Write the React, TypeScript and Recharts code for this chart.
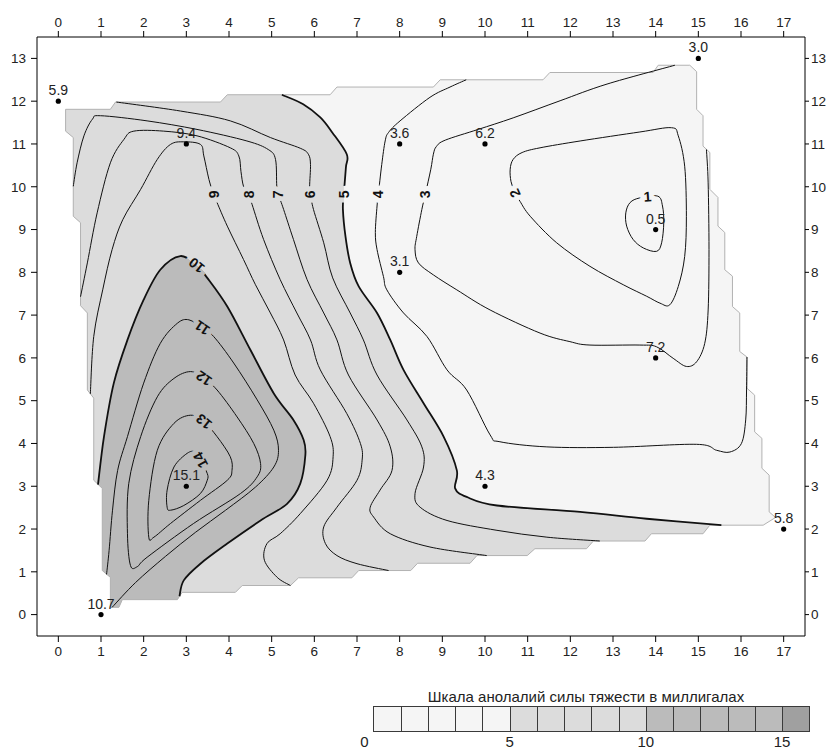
import { ScatterChart, Scatter, XAxis, YAxis } from 'recharts';

type Pt = [number, number];
type XY = { x: number; y: number };

const X_TICKS = [0, 1, 2, 3, 4, 5, 6, 7, 8, 9, 10, 11, 12, 13, 14, 15, 16, 17];
const Y_TICKS = [0, 1, 2, 3, 4, 5, 6, 7, 8, 9, 10, 11, 12, 13];

// blanking outline of the gridded area (stair steps of the grid)
const BOUNDARY: Pt[] = [
  [0.17, 11.81], [1.22, 11.81], [1.34, 11.98], [3.8, 11.98], [3.96, 12.15], [6.37, 12.15],
  [6.53, 12.33], [8.79, 12.33], [8.95, 12.5], [11.36, 12.5], [11.52, 12.67], [13.94, 12.67],
  [14.06, 12.84], [14.8, 12.84], [14.96, 12.69], [14.96, 11.81], [15.11, 11.66], [15.11, 10.95],
  [15.27, 10.8], [15.27, 9.94], [15.46, 9.75], [15.46, 9.08], [15.62, 8.93], [15.62, 8.06],
  [15.8, 7.91], [15.8, 7.2], [15.97, 7.05], [15.97, 6.15], [16.14, 6.02], [16.14, 5.29],
  [16.32, 5.13], [16.32, 4.27], [16.49, 4.12], [16.49, 3.42], [16.66, 3.26], [16.66, 2.4],
  [16.81, 2.27], [16.52, 2.09], [15.27, 2.09], [15.11, 1.89], [13.9, 1.89], [13.75, 1.72],
  [12.54, 1.72], [12.38, 1.54], [11.17, 1.54], [10.99, 1.38], [9.81, 1.38], [9.65, 1.2],
  [8.42, 1.2], [8.26, 1.03], [7.04, 1.03], [6.88, 0.86], [5.63, 0.86], [5.44, 0.68],
  [4.31, 0.68], [4.15, 0.52], [2.9, 0.52], [2.79, 0.35], [1.5, 0.35], [1.42, 0.17],
  [1.22, 0.17], [1.22, 0.87], [1.03, 1.03], [1.03, 2.95], [0.83, 3.14], [0.83, 5.06],
  [0.68, 5.25], [0.68, 7.05], [0.52, 7.22], [0.52, 9.16], [0.35, 9.31], [0.35, 11.15],
  [0.17, 11.3],
];

const CONTOUR_1: Pt[] = [
  [14.05, 9.78], [14.16, 9.55], [14.19, 9.16], [14.14, 8.69], [14.02, 8.49], [13.71, 8.57],
  [13.47, 8.77], [13.32, 9.08], [13.3, 9.39], [13.4, 9.63], [13.63, 9.74],
];
const CONTOUR_2: Pt[] = [
  [10.59, 10.41], [10.66, 10.64], [10.87, 10.8], [11.29, 10.91], [12.23, 11.07], [13.63, 11.28],
  [14.37, 11.38], [14.53, 11.19], [14.68, 10.48], [14.72, 9.31], [14.68, 8.37], [14.53, 7.67],
  [14.33, 7.24], [14.1, 7.28], [13.79, 7.44], [13.24, 7.71], [12.46, 8.14], [11.68, 8.69],
  [11.06, 9.31], [10.82, 9.66], [10.7, 9.87], [10.61, 10.12],
];
const CONTOUR_3: Pt[] = [
  [14.45, 12.84], [12.86, 12.4], [11.76, 12.01], [10.66, 11.61], [9.84, 11.34], [9.07, 11.09],
  [8.86, 10.94], [8.79, 10.76], [8.73, 10.41], [8.6, 9.82], [8.52, 9.47], [8.4, 8.84],
  [8.36, 8.53], [8.44, 8.22], [8.79, 7.94], [9.34, 7.59], [10.12, 7.12], [11.29, 6.58],
  [11.99, 6.38], [12.46, 6.3], [13.63, 6.3], [14.02, 6.26], [14.41, 5.99], [14.72, 5.8],
  [14.96, 5.91], [15.15, 6.34], [15.23, 7.12], [15.25, 8.53], [15.23, 10.09], [15.19, 10.87],
];
const CONTOUR_4: Pt[] = [
  [9.56, 12.5], [9.18, 12.33], [8.71, 12.09], [8.01, 11.54], [7.74, 11.27], [7.66, 11.07],
  [7.58, 10.52], [7.5, 9.82], [7.47, 9.55], [7.43, 8.93], [7.47, 8.53], [7.62, 7.9],
  [7.7, 7.59], [8.09, 7.05], [8.64, 6.5], [9.11, 5.72], [9.57, 5.25], [10.12, 4.2],
  [10.35, 4.04], [11.45, 3.92], [13.01, 3.91], [14.96, 3.98], [15.43, 3.84], [15.74, 3.8],
  [16.01, 4.0], [16.11, 4.55], [16.13, 5.25], [16.14, 6.02],
];
const CONTOUR_5: Pt[] = [
  [5.24, 12.15], [5.74, 11.93], [6.14, 11.62], [6.42, 11.27], [6.76, 10.76], [6.74, 10.45],
  [6.69, 9.82], [6.67, 9.47], [6.73, 8.84], [6.84, 8.22], [7.04, 7.67], [7.47, 7.05],
  [7.78, 6.42], [8.09, 5.72], [8.56, 4.94], [9.03, 4.16], [9.34, 3.37], [9.3, 2.95],
  [9.57, 2.75], [10.28, 2.55], [12.23, 2.4], [13.79, 2.24], [15.54, 2.09],
];
const CONTOUR_6: Pt[] = [
  [1.36, 11.98], [2.86, 11.77], [4.03, 11.54], [4.97, 11.15], [5.67, 10.9], [5.86, 10.76],
  [5.91, 10.52], [5.89, 10.01], [5.91, 9.82], [5.98, 9.47], [6.22, 8.69], [6.43, 7.87],
  [6.84, 7.05], [7.15, 6.42], [7.47, 5.6], [8.17, 4.55], [8.52, 3.92], [8.56, 3.45],
  [8.36, 2.83], [8.48, 2.51], [9.11, 2.2], [10.28, 1.97], [11.45, 1.81], [12.69, 1.72],
];
const CONTOUR_7: Pt[] = [
  [0.35, 10.01], [0.44, 10.56], [0.6, 11.19], [0.8, 11.58], [0.99, 11.66], [2.08, 11.54],
  [3.25, 11.34], [4.42, 11.07], [4.92, 10.87], [5.09, 10.64], [5.12, 10.01], [5.16, 9.82],
  [5.28, 9.47], [5.51, 8.77], [5.83, 7.83], [6.22, 7.05], [6.53, 6.42], [6.8, 5.6],
  [7.47, 4.55], [7.78, 3.92], [7.82, 3.37], [7.54, 2.91], [7.31, 2.51], [7.39, 2.28],
  [7.78, 1.89], [8.71, 1.58], [10.04, 1.38],
];
const CONTOUR_8: Pt[] = [
  [0.52, 7.43], [0.68, 8.22], [0.91, 9.39], [1.22, 10.56], [1.54, 11.11], [1.77, 11.3],
  [2.47, 11.3], [3.25, 11.19], [4.03, 10.91], [4.23, 10.72], [4.28, 10.36], [4.34, 10.01],
  [4.46, 9.82], [4.54, 9.59], [4.81, 8.77], [5.2, 7.83], [5.59, 7.05], [5.91, 6.42],
  [6.14, 5.72], [6.76, 4.7], [7.08, 4.0], [7.12, 3.61], [7.0, 3.14], [6.53, 2.51],
  [6.22, 2.05], [6.26, 1.66], [6.53, 1.38], [7.0, 1.19], [7.74, 1.03],
];
const CONTOUR_9: Pt[] = [
  [0.75, 5.16], [0.83, 6.5], [1.04, 7.59], [1.26, 8.53], [1.51, 9.23], [1.93, 9.94],
  [2.32, 10.64], [2.63, 10.99], [2.94, 11.05], [3.33, 10.99], [3.41, 10.72], [3.53, 10.17],
  [3.64, 9.82], [3.72, 9.63], [3.96, 9.08], [4.34, 8.3], [4.62, 7.71], [4.97, 7.05],
  [5.28, 6.42], [5.55, 5.6], [5.98, 4.94], [6.37, 4.16], [6.44, 3.69], [6.3, 3.14],
  [5.67, 2.36], [5.2, 1.89], [4.89, 1.66], [4.83, 1.27], [5.13, 0.87], [5.44, 0.68],
];
const CONTOUR_10: Pt[] = [
  [0.93, 3.04], [1.07, 4.16], [1.3, 5.41], [1.62, 6.42], [2.0, 7.36], [2.39, 8.06],
  [2.86, 8.38], [3.24, 8.16], [3.49, 7.87], [3.96, 7.2], [4.5, 6.19], [5.05, 5.17],
  [5.51, 4.55], [5.75, 4.08], [5.79, 3.73], [5.67, 3.06], [5.36, 2.59], [4.74, 2.2],
  [3.96, 1.66], [3.33, 1.19], [2.94, 0.8], [2.84, 0.43],
];
const CONTOUR_11: Pt[] = [
  [1.13, 0.94], [1.19, 1.5], [1.27, 2.44], [1.39, 3.37], [1.62, 4.16], [2.0, 5.41],
  [2.39, 6.34], [2.79, 6.81], [3.06, 6.89], [3.37, 6.7], [3.64, 6.5], [4.11, 5.88],
  [4.66, 5.02], [5.05, 4.31], [5.16, 3.84], [5.05, 3.45], [4.62, 2.98], [3.92, 2.44],
  [3.21, 1.92], [2.51, 1.36], [1.81, 0.75], [1.26, 0.17],
];
const CONTOUR_12: Pt[] = [
  [1.69, 1.15], [1.62, 1.89], [1.65, 3.06], [1.93, 4.16], [2.32, 5.09], [2.71, 5.52],
  [3.1, 5.68], [3.41, 5.52], [3.72, 5.25], [4.19, 4.62], [4.58, 4.0], [4.74, 3.53],
  [4.66, 3.22], [4.27, 2.83], [3.17, 2.13], [2.08, 1.34], [1.85, 1.12],
];
const CONTOUR_13: Pt[] = [
  [2.12, 1.81], [2.12, 2.67], [2.32, 3.84], [2.71, 4.47], [3.1, 4.66], [3.41, 4.51],
  [3.72, 4.16], [4.03, 3.69], [4.07, 3.37], [3.96, 3.14], [3.33, 2.67], [2.63, 2.13],
  [2.24, 1.81],
];
const CONTOUR_14: Pt[] = [
  [2.55, 2.51], [2.55, 2.91], [2.71, 3.45], [3.02, 3.77], [3.21, 3.8], [3.33, 3.61],
  [3.49, 3.3], [3.49, 3.14], [3.33, 2.83], [2.94, 2.55], [2.63, 2.44],
];

const LABEL_TEXT = ['1', '2', '3', '4', '5', '6', '7', '8', '9', '10', '11', '12', '13', '14'];
const LABEL_X = [13.81, 10.7, 8.6, 7.5, 6.69, 5.91, 5.16, 4.46, 3.64, 3.24, 3.37, 3.41, 3.41, 3.33];
const LABEL_Y = [9.77, 9.85, 9.82, 9.82, 9.82, 9.82, 9.82, 9.82, 9.82, 8.16, 6.7, 5.52, 4.51, 3.61];

const STATION_X = [0, 3, 8, 10, 15, 14, 8, 14, 3, 10, 17, 1];
const STATION_Y = [12, 11, 11, 11, 13, 9, 8, 6, 3, 3, 2, 0];
const STATION_VALUES = ['5.9', '9.4', '3.6', '6.2', '3.0', '0.5', '3.1', '7.2', '15.1', '4.3', '5.8', '10.7'];

const LEGEND_STEPS = [0, 1, 2, 3, 4, 5, 6, 7, 8, 9, 10, 11, 12, 13, 14, 15];
const LEGEND_TICKS = [0, 5, 10, 15];

const SHADES = ['#f5f5f5', '#dcdcdc', '#bbbbbb', '#a0a0a0'];
const shadeFor = (v: number) => SHADES[Math.min(3, Math.floor(v / 5))];

// label angle (deg) and halo colours: [angle, side of higher values, other side]
const LABEL_STYLE: Record<string, [number, string, string]> = {
  '1': [-4, SHADES[0], SHADES[0]],
  '2': [-114, SHADES[0], SHADES[0]],
  '3': [-90, SHADES[0], SHADES[0]],
  '4': [-90, SHADES[0], SHADES[0]],
  '5': [-90, SHADES[1], SHADES[0]],
  '6': [-90, SHADES[1], SHADES[1]],
  '7': [-90, SHADES[1], SHADES[1]],
  '8': [-90, SHADES[1], SHADES[1]],
  '9': [-90, SHADES[1], SHADES[1]],
  '10': [-141, SHADES[2], SHADES[1]],
  '11': [-146, SHADES[2], SHADES[2]],
  '12': [-146, SHADES[2], SHADES[2]],
  '13': [-141, SHADES[2], SHADES[2]],
  '14': [-118, SHADES[2], SHADES[2]],
};

const rows = (pts: Pt[]) => pts.map(([x, y]) => ({ x, y }));

const REGION_5 = [...CONTOUR_5, ...BOUNDARY.slice(38), ...BOUNDARY.slice(0, 5)];
const REGION_10 = [...CONTOUR_10, ...BOUNDARY.slice(57, 64)];

const CONTOURS: { pts: Pt[]; closed: boolean; major: boolean }[] = [
  { pts: CONTOUR_1, closed: true, major: false },
  { pts: CONTOUR_2, closed: true, major: false },
  { pts: CONTOUR_3, closed: false, major: false },
  { pts: CONTOUR_4, closed: false, major: false },
  { pts: CONTOUR_5, closed: false, major: true },
  { pts: CONTOUR_6, closed: false, major: false },
  { pts: CONTOUR_7, closed: false, major: false },
  { pts: CONTOUR_8, closed: false, major: false },
  { pts: CONTOUR_9, closed: false, major: false },
  { pts: CONTOUR_10, closed: false, major: true },
  { pts: CONTOUR_11, closed: false, major: false },
  { pts: CONTOUR_12, closed: true, major: false },
  { pts: CONTOUR_13, closed: true, major: false },
  { pts: CONTOUR_14, closed: true, major: false },
];

const labelRows = LABEL_TEXT.map((text, i) => ({ x: LABEL_X[i], y: LABEL_Y[i], text }));
const stationRows = STATION_X.map((x, i) => ({ x, y: STATION_Y[i], label: STATION_VALUES[i] }));

// catmull-rom segment as a cubic bezier
const seg = (p0: XY, p1: XY, p2: XY, p3: XY) => {
  const c1x = p1.x + (p2.x - p0.x) / 6;
  const c1y = p1.y + (p2.y - p0.y) / 6;
  const c2x = p2.x - (p3.x - p1.x) / 6;
  const c2y = p2.y - (p3.y - p1.y) / 6;
  return `C${c1x},${c1y} ${c2x},${c2y} ${p2.x},${p2.y}`;
};

function smoothOpen(pts: XY[]) {
  let d = `M${pts[0].x},${pts[0].y}`;
  for (let i = 0; i < pts.length - 1; i++) {
    const p0 = pts[Math.max(i - 1, 0)];
    const p3 = pts[Math.min(i + 2, pts.length - 1)];
    d += seg(p0, pts[i], pts[i + 1], p3);
  }
  return d;
}

function smoothClosed(pts: XY[]) {
  const n = pts.length;
  let d = `M${pts[0].x},${pts[0].y}`;
  for (let i = 0; i < n; i++) {
    d += seg(pts[(i - 1 + n) % n], pts[i], pts[(i + 1) % n], pts[(i + 2) % n]);
  }
  return d + 'Z';
}

const linear = (pts: XY[]) => pts.map((p, i) => `${i ? 'L' : 'M'}${p.x},${p.y}`).join('') + 'Z';

const outline = (fill: string, stroke: string) => (props: any) => (
  <path d={linear(props.points)} fill={fill} stroke={stroke} strokeWidth={1} />
);

const region = (nSmooth: number, fill: string) => (props: any) => {
  const pts: XY[] = props.points;
  const tail = pts.slice(nSmooth).map((p) => `L${p.x},${p.y}`).join('');
  return <path d={smoothOpen(pts.slice(0, nSmooth)) + tail + 'Z'} fill={fill} stroke="none" />;
};

const contourLine = (closed: boolean, width: number) => (props: any) => (
  <path
    d={closed ? smoothClosed(props.points) : smoothOpen(props.points)}
    fill="none"
    stroke="#111"
    strokeWidth={width}
    strokeLinejoin="round"
  />
);

const noShape = () => <g />;

const renderContourLabel = (props: any) => {
  const { cx, cy, payload } = props;
  const [angle, top, bottom] = LABEL_STYLE[payload.text];
  const id = `halo-${payload.text}`;
  return (
    <g>
      <defs>
        <linearGradient id={id} x1="0" y1="0" x2="0" y2="1">
          <stop offset="0.5" stopColor={top} />
          <stop offset="0.5" stopColor={bottom} />
        </linearGradient>
      </defs>
      <text
        x={cx}
        y={cy}
        transform={`rotate(${angle} ${cx} ${cy})`}
        textAnchor="middle"
        dominantBaseline="central"
        fontSize={14}
        fontWeight="bold"
        fill="#111"
        stroke={`url(#${id})`}
        strokeWidth={10}
        strokeLinejoin="round"
        style={{ paintOrder: 'stroke' }}
      >
        {payload.text}
      </text>
    </g>
  );
};

const renderStation = (props: any) => {
  const { cx, cy, payload } = props;
  return (
    <g>
      <circle cx={cx} cy={cy} r={2.6} fill="#000" />
      <text x={cx} y={cy - 6} textAnchor="middle" fontSize={14} fill="#222">
        {payload.label}
      </text>
    </g>
  );
};

const axisStyle = {
  type: 'number' as const,
  allowDataOverflow: true,
  interval: 0 as const,
  axisLine: { stroke: '#000' },
  tickLine: { stroke: '#000' },
  tick: { fill: '#222', fontSize: 13.5 },
};

export default function App() {
  const cell = 27.25;
  const legendLeft = 373.3;

  return (
    <div
      style={{
        position: 'absolute',
        left: 0,
        top: 0,
        width: 828,
        height: 749,
        background: '#fff',
        fontFamily: '"Liberation Sans", Arial, sans-serif',
      }}
    >
      <ScatterChart width={828} height={749} margin={{ top: 7, right: 3, bottom: 83, left: 7 }}>
        <XAxis {...axisStyle} xAxisId="b" dataKey="x" orientation="bottom" domain={[-0.5, 17.5]}
          ticks={X_TICKS} height={30} tickSize={6} tickMargin={4} />
        <XAxis {...axisStyle} xAxisId="t" dataKey="x" orientation="top" domain={[-0.5, 17.5]}
          ticks={X_TICKS} height={30} tickSize={6} tickMargin={4} />
        <YAxis {...axisStyle} yAxisId="l" dataKey="y" orientation="left" domain={[-0.5, 13.5]}
          ticks={Y_TICKS} width={30} tickSize={6} tickMargin={5} />
        <YAxis {...axisStyle} yAxisId="r" dataKey="y" orientation="right" domain={[-0.5, 13.5]}
          ticks={Y_TICKS} width={20} tickSize={4} tickMargin={2} />

        <Scatter xAxisId="b" yAxisId="l" data={rows(BOUNDARY)} shape={noShape}
          line={outline(SHADES[0], 'none')} isAnimationActive={false} />
        <Scatter xAxisId="b" yAxisId="l" data={rows(REGION_5)} shape={noShape}
          line={region(CONTOUR_5.length, SHADES[1])} isAnimationActive={false} />
        <Scatter xAxisId="b" yAxisId="l" data={rows(REGION_10)} shape={noShape}
          line={region(CONTOUR_10.length, SHADES[2])} isAnimationActive={false} />
        <Scatter xAxisId="b" yAxisId="l" data={rows(BOUNDARY)} shape={noShape}
          line={outline('none', '#b2b2b2')} isAnimationActive={false} />

        {CONTOURS.map((c, i) => (
          <Scatter key={`c${i}`} xAxisId="b" yAxisId="l" data={rows(c.pts)} shape={noShape}
            line={contourLine(c.closed, c.major ? 1.8 : 1)} isAnimationActive={false} />
        ))}

        <Scatter xAxisId="b" yAxisId="l" data={labelRows} shape={renderContourLabel}
          isAnimationActive={false} />
        <Scatter xAxisId="b" yAxisId="l" data={stationRows} shape={renderStation}
          isAnimationActive={false} />
      </ScatterChart>

      <div
        style={{
          position: 'absolute',
          left: 386,
          top: 688,
          width: 400,
          textAlign: 'center',
          fontSize: 15,
          lineHeight: '17px',
          color: '#222',
          whiteSpace: 'nowrap',
        }}
      >
        Шкала анолалий силы тяжести в миллигалах
      </div>
      {LEGEND_STEPS.map((v) => (
        <div
          key={v}
          style={{
            position: 'absolute',
            left: Math.round(legendLeft + v * cell),
            top: 706,
            width: Math.round(legendLeft + (v + 1) * cell) - Math.round(legendLeft + v * cell) + 1,
            height: 26,
            boxSizing: 'border-box',
            border: '1px solid #3a3a3a',
            background: shadeFor(v),
          }}
        />
      ))}
      {LEGEND_TICKS.map((v) => (
        <div
          key={v}
          style={{
            position: 'absolute',
            left: (v === 0 ? legendLeft - 9 : legendLeft + v * cell) - 20,
            top: 733,
            width: 40,
            textAlign: 'center',
            fontSize: 15,
            lineHeight: '17px',
            color: '#222',
          }}
        >
          {v}
        </div>
      ))}
    </div>
  );
}
